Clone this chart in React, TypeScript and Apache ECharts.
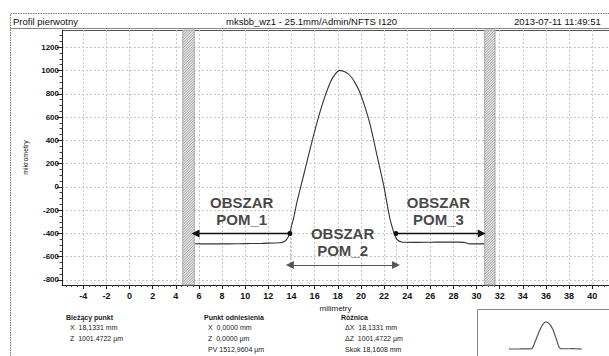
import React, { useEffect, useRef } from "react";
import * as echarts from "echarts";

const FONT = '"Liberation Sans", Arial, Helvetica, sans-serif';

// Primary profile: position (mm) and height (µm)
const profileX = [
  5.65, 6.5, 7.5, 8.5, 9.5, 10.5, 11.5, 12.5, 13.0, 13.3, 13.55, 13.75, 13.86,
  14.0, 14.2, 14.45, 14.75, 15.05, 15.35, 15.65, 15.95, 16.25, 16.55, 16.85,
  17.15, 17.45, 17.75, 18.13, 18.5, 18.85, 19.2, 19.55, 19.9, 20.2, 20.5, 20.8,
  21.1, 21.4, 21.7, 22.0, 22.3, 22.55, 22.75, 22.9, 23.05, 23.25, 23.5, 23.8,
  24.5, 25.5, 26.5, 27.5, 28.5, 29.0, 29.3, 30.0, 30.65,
];
const profileZ = [
  -488, -490, -489, -490, -488, -487, -485, -482, -480, -474, -455, -425, -400,
  -335, -262, -140, -20, 100, 222, 342, 458, 570, 672, 765,
  848, 918, 965, 1001.5, 993, 975, 940, 885, 815, 732, 640, 535,
  405, 267, 135, 0, -165, -290, -360, -405, -440, -463, -473, -476,
  -477, -476, -475, -474, -475, -478, -488, -490, -490,
];

// Excluded (hatched) zones, mm
const bandStart = [4.6, 30.7];
const bandEnd = [5.6, 31.6];

// Measurement regions
const regionNames = ["OBSZAR\nPOM_1", "OBSZAR\nPOM_2", "OBSZAR\nPOM_3"];
const regionLabelX = [9.7, 18.42, 26.7];
const regionLabelZ = [-210, -471, -209];
const markerX = [13.86, 23.03];
const markerZ = -400;
const pom1End = 5.7;
const pom3End = 30.45;
const pom2Z = -672;
const pom2DropZ = -715;

// Axes
const xMin = -5.84;
const xMax = 41.45;
const zMin = -843;
const zMax = 1348;
const xTicks = [-4, -2, 0, 2, 4, 6, 8, 10, 12, 14, 16, 18, 20, 22, 24, 26, 28, 30, 32, 34, 36, 38, 40];
const zTicks = [-800, -600, -400, -200, 0, 200, 400, 600, 800, 1000, 1200];
const xMinorTicks: number[] = [];
for (let v = -5.5; v <= 41; v += 0.5) if (!xTicks.includes(v)) xMinorTicks.push(v);
const zMinorTicks: number[] = [];
for (let v = -800; v <= 1300; v += 50) if (!zTicks.includes(v)) zMinorTicks.push(v);

// Readout panel
const currentTitle = "Bieżący punkt";
const currentLines = ["X  18,1331 mm", "Z  1001,4722 µm"];
const refTitle = "Punkt odniesienia";
const refLines = ["X  0,0000 mm", "Z  0,0000 µm", "PV 1512,9604 µm"];
const diffTitle = "Różnica";
const diffLines = ["ΔX  18,1331 mm", "ΔZ  1001,4722 µm", "Skok 18,1608 mm"];

const headerLeft = "Profil pierwotny";
const headerMid = "mksbb_wz1 - 25.1mm/Admin/NFTS I120";
const headerRight = "2013-07-11 11:49:51";

export default function App() {
  const ref = useRef<HTMLDivElement>(null);

  useEffect(() => {
    if (!ref.current) return;
    const chart = echarts.init(ref.current, undefined, { renderer: "svg" });

    const profile = profileX.map((x, i) => [x, profileZ[i]]);
    const bands = bandStart.map((s, i) => [s, bandEnd[i]]);
    const labels = regionNames.map((n, i) => [regionLabelX[i], regionLabelZ[i], n]);

    const gridLine = { show: true, lineStyle: { color: "#c8c8c8", type: [2, 2] as any, width: 1 } };
    const axisLabelStyle = {
      color: "#111",
      fontFamily: FONT,
      fontWeight: "bold" as const,
      formatter: (v: number) => String(v),
    };

    const textLines = (x: number, title: string, lines: string[], indent: number) => {
      const els: any[] = [
        { type: "text", left: x, top: 313.5, style: { text: title, font: `bold 7px ${FONT}`, fill: "#222" } },
      ];
      lines.forEach((t, i) => {
        els.push({
          type: "text",
          left: x + indent,
          top: 324 + i * 11,
          style: { text: t, font: `7px ${FONT}`, fill: "#222" },
        });
      });
      return els;
    };

    chart.setOption({
      animation: false,
      backgroundColor: "#fff",
      grid: [
        { left: 62, top: 30, right: 0, bottom: 71 },
        { left: 509, right: 27, top: 322, height: 27 },
      ],
      xAxis: [
        {
          type: "value",
          gridIndex: 0,
          min: xMin,
          max: xMax,
          name: "milimetry",
          nameLocation: "middle",
          nameGap: 14.5,
          nameTextStyle: { fontFamily: FONT, fontSize: 8, color: "#222" },
          axisLine: { show: true, onZero: false, lineStyle: { color: "#222", width: 1 } },
          axisTick: { show: true, customValues: xTicks, length: 4, lineStyle: { color: "#222" } },
          axisLabel: { customValues: xTicks, fontSize: 9, margin: 6, ...axisLabelStyle },
          splitLine: gridLine,
        },
        {
          type: "value",
          gridIndex: 0,
          min: xMin,
          max: xMax,
          position: "bottom",
          axisLine: { show: false, onZero: false },
          axisTick: { show: true, customValues: xMinorTicks, length: 2, lineStyle: { color: "#444" } },
          axisLabel: { show: false },
          splitLine: { show: false },
        },
        { type: "value", gridIndex: 1, min: 5.65, max: 30.65, show: false },
      ],
      yAxis: [
        {
          type: "value",
          gridIndex: 0,
          min: zMin,
          max: zMax,
          name: "mikrometry",
          nameLocation: "middle",
          nameGap: 33,
          nameTextStyle: { fontFamily: FONT, fontSize: 7, color: "#222" },
          axisLine: { show: true, onZero: false, lineStyle: { color: "#222", width: 1 } },
          axisTick: { show: true, customValues: zTicks, length: 5, lineStyle: { color: "#222" } },
          axisLabel: { customValues: zTicks, fontSize: 8, margin: 3, ...axisLabelStyle },
          splitLine: gridLine,
        },
        {
          type: "value",
          gridIndex: 0,
          min: zMin,
          max: zMax,
          position: "left",
          axisLine: { show: false, onZero: false },
          axisTick: { show: true, customValues: zMinorTicks, length: 2.5, lineStyle: { color: "#444" } },
          axisLabel: { show: false },
          splitLine: { show: false },
        },
        { type: "value", gridIndex: 1, min: -490, max: 1001.5, show: false },
      ],
      series: [
        {
          type: "custom",
          xAxisIndex: 0,
          yAxisIndex: 0,
          data: bands,
          renderItem: (_params: any, api: any) => {
            const p0 = api.coord([api.value(0), zMax]);
            const p1 = api.coord([api.value(1), zMin]);
            const left = p0[0];
            const top = p0[1];
            const w = p1[0] - p0[0];
            const h = p1[1] - p0[1];
            const children: any[] = [
              {
                type: "rect",
                shape: { x: left, y: top, width: w, height: h },
                style: { fill: "#e4e4e4", stroke: "#9a9a9a", lineWidth: 0.8 },
              },
            ];
            for (let t = -w; t <= h; t += 2.6) {
              const s0 = Math.max(0, t + w - h);
              const s1 = Math.min(w, t + w);
              if (s1 <= s0) continue;
              children.push({
                type: "line",
                shape: {
                  x1: left + s0,
                  y1: top + t + w - s0,
                  x2: left + s1,
                  y2: top + t + w - s1,
                },
                style: { stroke: "#8c8c8c", lineWidth: 0.7 },
              });
            }
            return { type: "group", children };
          },
          z: 1,
        },
        {
          type: "line",
          xAxisIndex: 0,
          yAxisIndex: 0,
          data: profile,
          smooth: 0.2,
          showSymbol: false,
          lineStyle: { color: "#333", width: 1.1 },
          z: 3,
        },
        {
          // dashed drops from region markers
          type: "lines",
          coordinateSystem: "cartesian2d",
          xAxisIndex: 0,
          yAxisIndex: 0,
          data: markerX.map((x) => ({ coords: [[x, markerZ], [x, pom2DropZ]] })),
          symbol: "none",
          lineStyle: { color: "#777", width: 1, type: [2, 2] as any },
          z: 2,
        },
        {
          type: "lines",
          coordinateSystem: "cartesian2d",
          xAxisIndex: 0,
          yAxisIndex: 0,
          data: [
            { coords: [[markerX[0], markerZ], [pom1End, markerZ]] },
            { coords: [[markerX[1], markerZ], [pom3End, markerZ]] },
          ],
          symbol: ["circle", "triangle"],
          symbolSize: [5, 8],
          lineStyle: { color: "#111", width: 1.4, opacity: 1 },
          z: 4,
        },
        {
          type: "lines",
          coordinateSystem: "cartesian2d",
          xAxisIndex: 0,
          yAxisIndex: 0,
          data: [{ coords: [[markerX[0], pom2Z], [markerX[1], pom2Z]] }],
          symbol: ["triangle", "triangle"],
          symbolSize: [8, 8],
          lineStyle: { color: "#555", width: 1, opacity: 1 },
          z: 4,
        },
        {
          type: "scatter",
          xAxisIndex: 0,
          yAxisIndex: 0,
          data: labels,
          symbolSize: 0,
          label: {
            show: true,
            position: "inside",
            formatter: (p: any) => p.value[2],
            fontFamily: FONT,
            fontWeight: "bold",
            fontSize: 15,
            lineHeight: 17,
            color: "#151515",
            align: "center",
          },
          z: 5,
        },
        {
          type: "line",
          xAxisIndex: 2,
          yAxisIndex: 2,
          data: profile,
          smooth: 0.2,
          showSymbol: false,
          clip: false,
          lineStyle: { color: "#555", width: 1.2 },
        },
      ],
      graphic: [
        {
          type: "rect",
          shape: { x: 10.5, y: 13.5, width: 640, height: 400 },
          style: { fill: "none", stroke: "#777", lineWidth: 1, lineDash: [1.5, 1] },
          silent: true,
        },
        {
          type: "line",
          shape: { x1: 10, y1: 28.5, x2: 609, y2: 28.5 },
          style: { stroke: "#888", lineWidth: 1 },
        },
        {
          type: "line",
          shape: { x1: 62, y1: 30.5, x2: 609, y2: 30.5 },
          style: { stroke: "#555", lineWidth: 1 },
        },
        {
          type: "text",
          left: 13,
          top: 16,
          style: { text: headerLeft, font: `9.5px ${FONT}`, fill: "#111" },
        },
        {
          type: "text",
          left: 226,
          top: 16,
          style: { text: headerMid, font: `9.5px ${FONT}`, fill: "#111" },
        },
        {
          type: "text",
          left: 514,
          top: 16,
          style: { text: headerRight, font: `9.5px ${FONT}`, fill: "#111" },
        },
        ...textLines(66, currentTitle, currentLines, 4),
        ...textLines(204, refTitle, refLines, 4),
        ...textLines(341, diffTitle, diffLines, 4),
        {
          type: "rect",
          shape: { x: 477.5, y: 309.5, width: 200, height: 100 },
          style: { fill: "none", stroke: "#888", lineWidth: 1 },
          silent: true,
        },
      ],
    });

    return () => chart.dispose();
  }, []);

  return (
    <div
      ref={ref}
      style={{ position: "fixed", left: 0, top: 0, width: 609, height: 356 }}
    />
  );
}
